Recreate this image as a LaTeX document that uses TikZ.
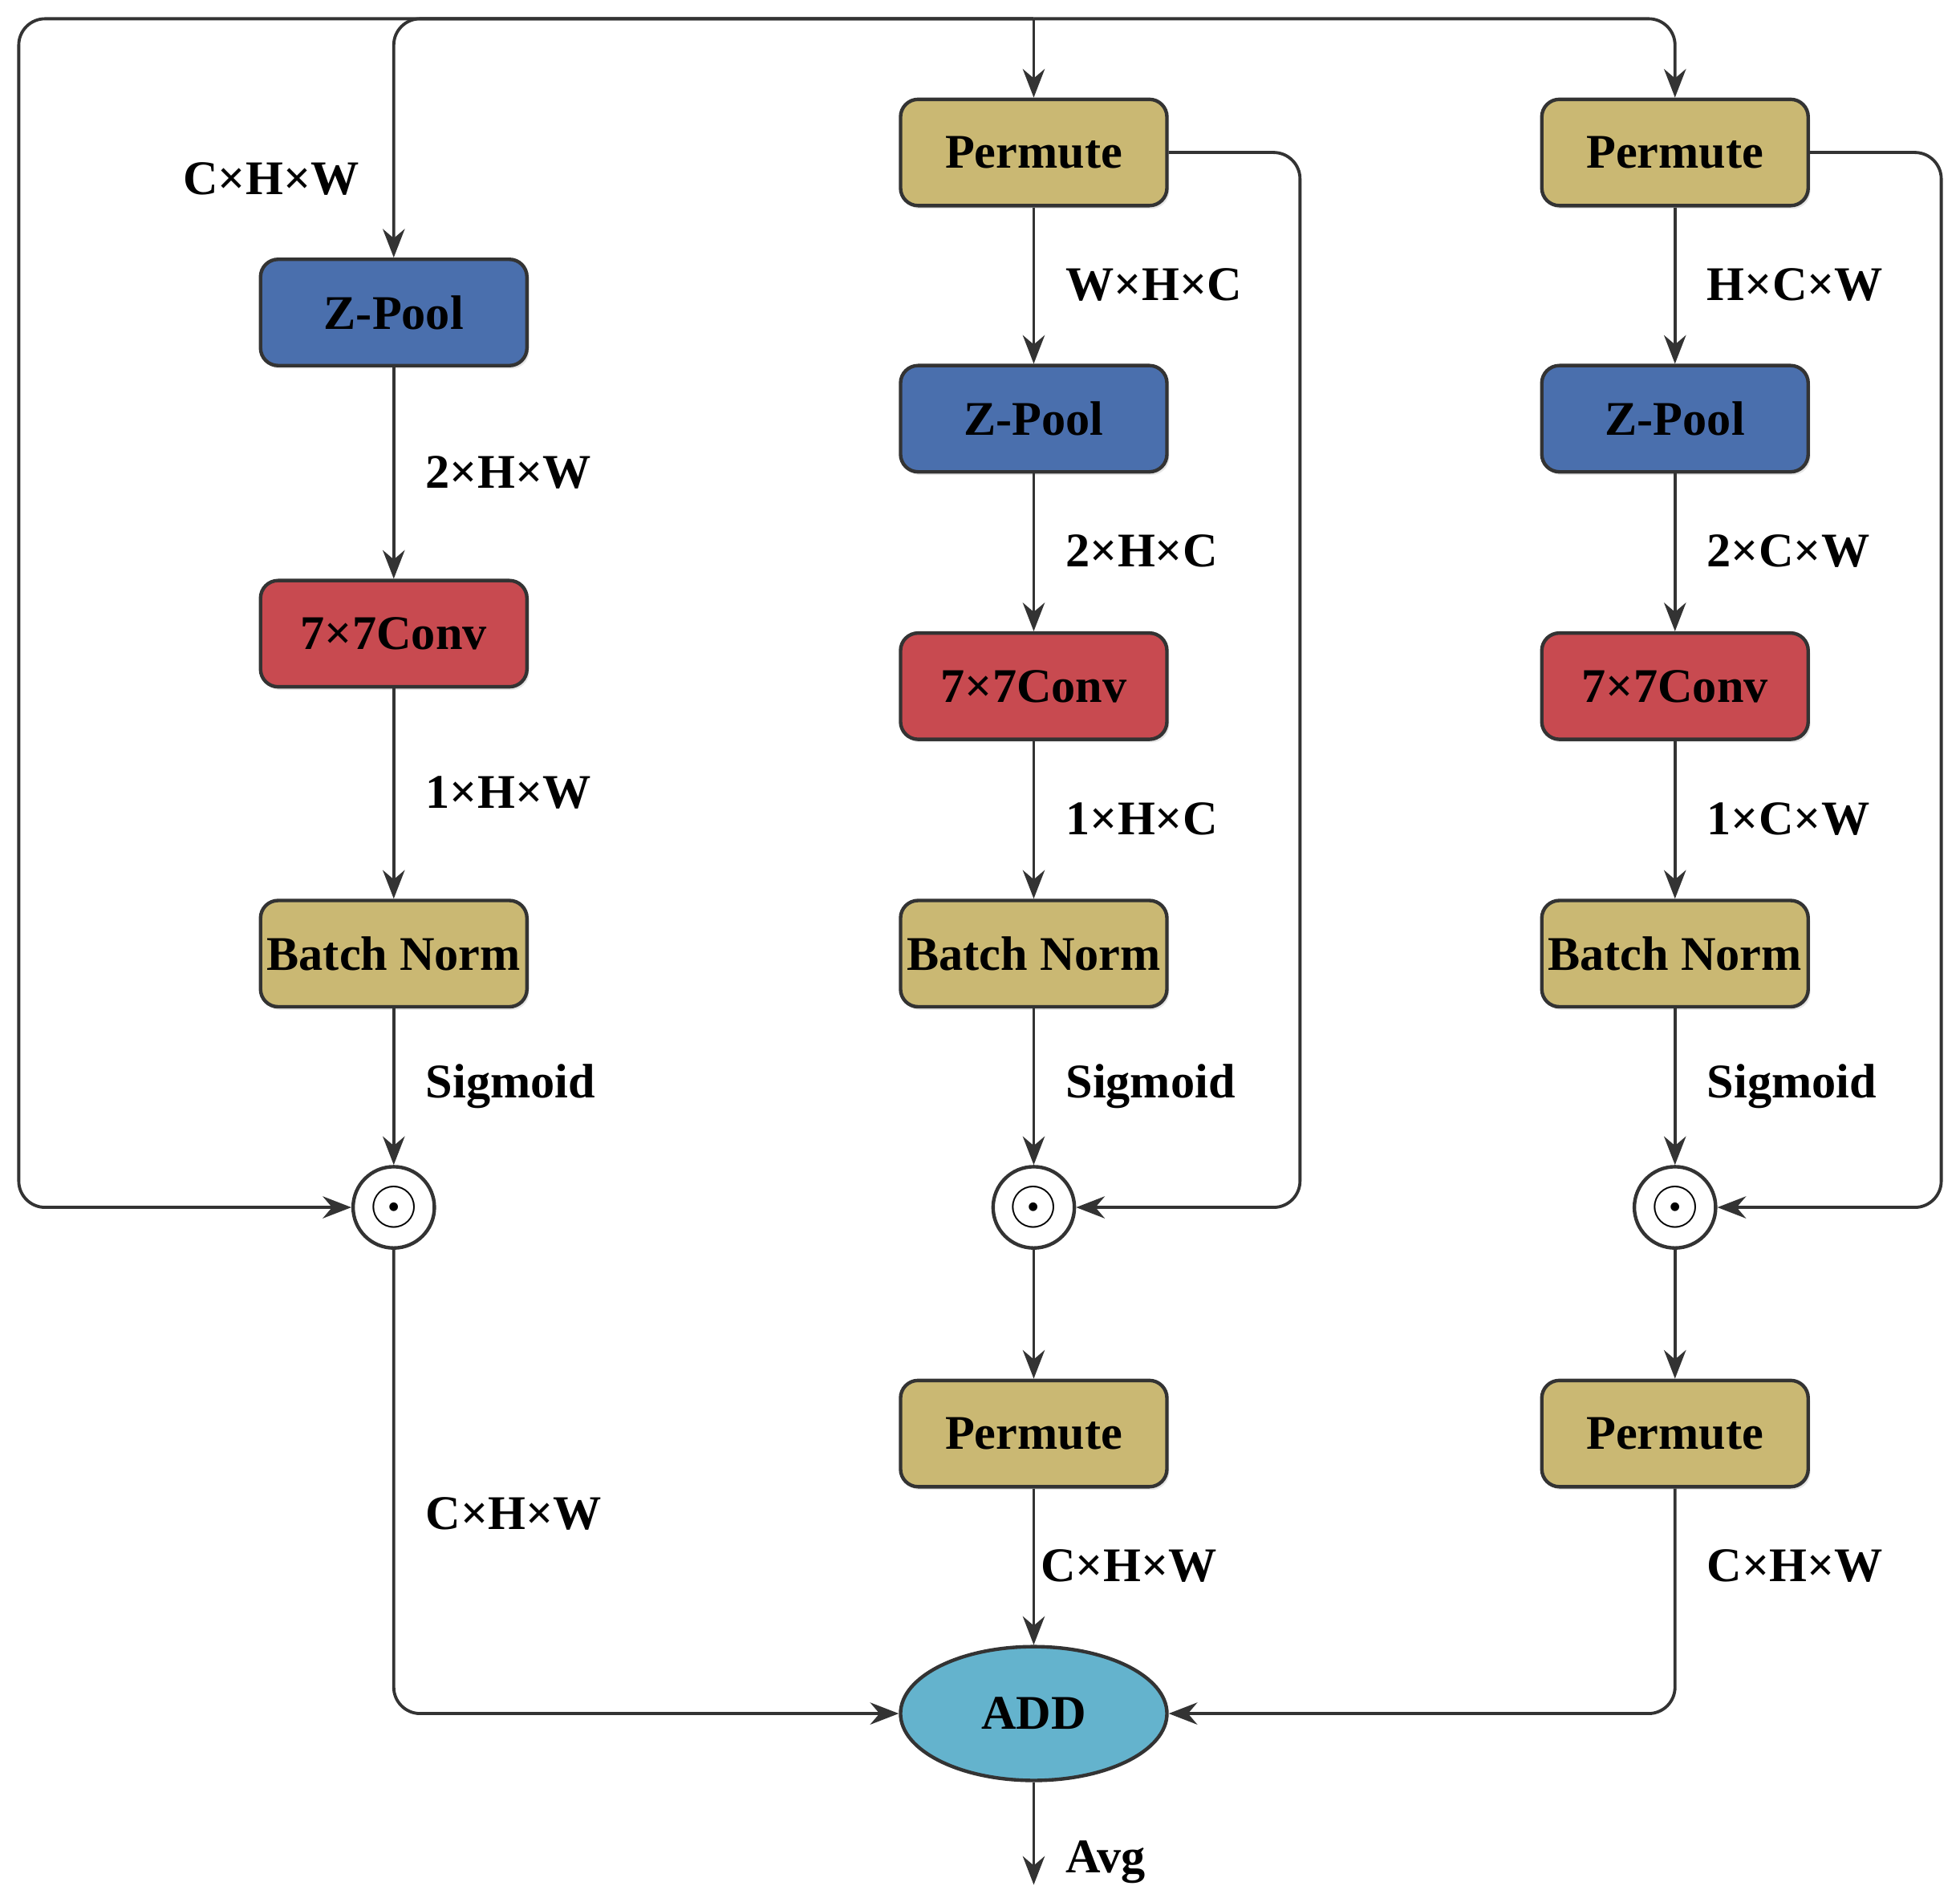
\documentclass[tikz,border=0pt]{standalone}
\usepackage{fontspec}
\setmainfont{Liberation Serif}
\usetikzlibrary{arrows.meta,shapes.geometric,shadows}

\definecolor{poolblue}{HTML}{4A6FAD}
\definecolor{convred}{HTML}{C84A50}
\definecolor{permtan}{HTML}{CAB873}
\definecolor{addcyan}{HTML}{64B3CD}
\definecolor{edge}{HTML}{333333}

\tikzstyle{block} = [rectangle, draw=edge, line width=0.8pt, rounded corners=4pt,
minimum width=2.13cm, minimum height=0.85cm, inner sep=0pt, font=\fontsize{11}{13}\selectfont\bfseries,
drop shadow={shadow xshift=0.5pt, shadow yshift=-0.7pt, opacity=0.2}]
\tikzstyle{pool} = [block, fill=poolblue]
\tikzstyle{conv} = [block, fill=convred]
\tikzstyle{perm} = [block, fill=permtan]
\tikzstyle{mult} = [circle, draw=edge, line width=0.8pt, fill=white, minimum size=0.65cm, inner sep=0pt, font=\Large]
\tikzstyle{sum} = [ellipse, draw=edge, line width=0.8pt, fill=addcyan,
minimum width=2.13cm, minimum height=1.07cm, inner sep=0pt, font=\fontsize{11}{13}\selectfont\bfseries]
\tikzstyle{dim} = [anchor=west, inner sep=0pt, font=\fontsize{11}{13}\selectfont\bfseries]
\tikzstyle{arrow} = [line width=0.7pt, draw=edge, rounded corners=6pt, -{Stealth[length=6.5pt,width=5pt]}]

\begin{document}
\begin{tikzpicture}[x=0.01cm, y=-0.01cm]

\useasboundingbox (0,0) rectangle (1568,1518);

	%Split point of the input tensor
	\coordinate (In) at (827,15);

	%Branch 1: C x H x W
	\node[pool](ZPool1) at (315,250) {Z-Pool};
	\node[conv](Conv1) at (315,507) {7×7Conv};
	\node[perm](BN1) at (315,763) {Batch Norm};
	\node[mult](Mul1) at (315,966) {$\odot$};

	%Branch 2: W x H x C
	\node[perm](Perm2) at (827,122) {Permute};
	\node[pool](ZPool2) at (827,335) {Z-Pool};
	\node[conv](Conv2) at (827,549) {7×7Conv};
	\node[perm](BN2) at (827,763) {Batch Norm};
	\node[mult](Mul2) at (827,966) {$\odot$};
	\node[perm](Back2) at (827,1147) {Permute};

	%Branch 3: H x C x W
	\node[perm](Perm3) at (1340,122) {Permute};
	\node[pool](ZPool3) at (1340,335) {Z-Pool};
	\node[conv](Conv3) at (1340,549) {7×7Conv};
	\node[perm](BN3) at (1340,763) {Batch Norm};
	\node[mult](Mul3) at (1340,966) {$\odot$};
	\node[perm](Back3) at (1340,1147) {Permute};

	%Sum of the three branches
	\node[sum](Add) at (827,1371) {ADD};
	\coordinate (Out) at (827,1508);

	%Turning points of the skip paths
	\coordinate (Skip1) at (15,966);
	\coordinate (Skip2) at (1040,966);
	\coordinate (Skip3) at (1553,966);

	%Arrows from the input
	\path[arrow] (In) -- (Perm2);
	\path[arrow] (In) -| (ZPool1);
	\path[arrow] (In) -| (Perm3);
	\path[arrow] (In) -| (Skip1) -- (Mul1);

	%Arrows down each branch
	\path[arrow] (ZPool1) -- (Conv1);
	\path[arrow] (Conv1) -- (BN1);
	\path[arrow] (BN1) -- (Mul1);
	\path[arrow] (Perm2) -- (ZPool2);
	\path[arrow] (ZPool2) -- (Conv2);
	\path[arrow] (Conv2) -- (BN2);
	\path[arrow] (BN2) -- (Mul2);
	\path[arrow] (Mul2) -- (Back2);
	\path[arrow] (Perm3) -- (ZPool3);
	\path[arrow] (ZPool3) -- (Conv3);
	\path[arrow] (Conv3) -- (BN3);
	\path[arrow] (BN3) -- (Mul3);
	\path[arrow] (Mul3) -- (Back3);

	%Skip paths of the permuted tensors
	\path[arrow] (Perm2) -| (Skip2) -- (Mul2);
	\path[arrow] (Perm3) -| (Skip3) -- (Mul3);

	%Arrows into the sum
	\path[arrow] (Mul1) |- (Add);
	\path[arrow] (Back2) -- (Add);
	\path[arrow] (Back3) |- (Add);
	\path[arrow] (Add) -- (Out);

	%Tensor shapes
	\node[dim, anchor=center](DimIn) at (217,143) {C×H×W};
	\node[dim](Dim1a) at (340,378) {2×H×W};
	\node[dim](Dim1b) at (340,634) {1×H×W};
	\node[dim](Sig1) at (340,869) {Sigmoid};
	\node[dim](Dim1c) at (340,1211) {C×H×W};
	\node[dim](Dim2a) at (852,228) {W×H×C};
	\node[dim](Dim2b) at (852,441) {2×H×C};
	\node[dim](Dim2c) at (852,655) {1×H×C};
	\node[dim](Sig2) at (852,869) {Sigmoid};
	\node[dim](Dim2d) at (832,1253) {C×H×W};
	\node[dim](Dim3a) at (1365,228) {H×C×W};
	\node[dim](Dim3b) at (1365,441) {2×C×W};
	\node[dim](Dim3c) at (1365,655) {1×C×W};
	\node[dim](Sig3) at (1365,869) {Sigmoid};
	\node[dim](Dim3d) at (1365,1253) {C×H×W};
	\node[dim](AvgLab) at (852,1490) {Avg};

\end{tikzpicture}
\end{document}
